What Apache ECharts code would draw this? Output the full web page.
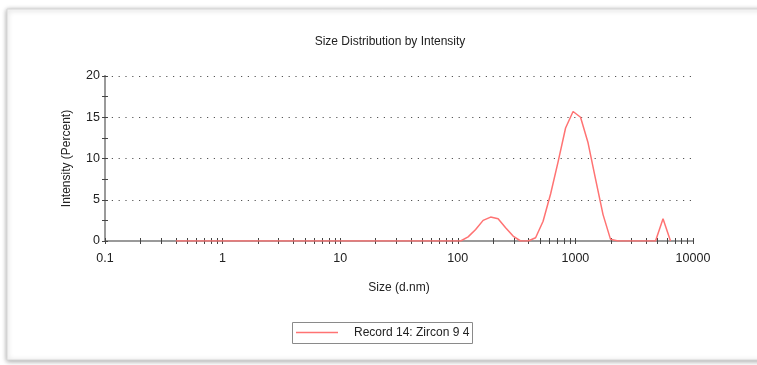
<!DOCTYPE html>
<html>
<head>
<meta charset="utf-8">
<script src="https://cdn.jsdelivr.net/npm/echarts@6/dist/echarts.min.js"></script>
<style>
  html, body { margin: 0; padding: 0; background: #ffffff; }
  #chart { width: 757px; height: 365px; }
</style>
</head>
<body>
<div id="chart"></div>
<script>
// Size classes (d.nm) of the intensity distribution, log-spaced bins
const sizeBins = [
  0.4, 0.4632, 0.5365, 0.6213, 0.7195, 0.8332, 0.9649, 1.117, 1.294, 1.499,
  1.736, 2.010, 2.328, 2.696, 3.122, 3.615, 4.187, 4.849, 5.615, 6.503,
  7.531, 8.721, 10.10, 11.70, 13.54, 15.69, 18.17, 21.04, 24.36, 28.21,
  32.67, 37.84, 43.82, 50.75, 58.77, 68.06, 78.82, 91.28, 105.7, 122.4,
  141.8, 164.2, 190.1, 220.2, 255.0, 295.3, 342.0, 396.1, 458.7, 531.2,
  615.1, 712.4, 825.0, 955.4, 1106, 1281, 1484, 1718, 1990, 2305,
  2669, 3091, 3580, 4145, 4801, 5560, 6439
];

// Intensity (%) per size class
const intensity = [
  0, 0, 0, 0, 0, 0, 0, 0, 0, 0,
  0, 0, 0, 0, 0, 0, 0, 0, 0, 0,
  0, 0, 0, 0, 0, 0, 0, 0, 0, 0,
  0, 0, 0, 0, 0, 0, 0, 0, 0, 0.5,
  1.4, 2.5, 2.9, 2.7, 1.6, 0.6, 0, 0, 0.4, 2.4,
  5.7, 9.6, 13.7, 15.7, 15.0, 11.9, 7.5, 3.2, 0.2, 0,
  0, 0, 0, 0, 0, 2.7, 0
];

// Axis tick positions on the log size axis
const xTickValues = [
  0.1, 0.2, 0.3, 0.4, 0.5, 0.6, 0.7, 0.8, 0.9,
  1, 2, 3, 4, 5, 6, 7, 8, 9,
  10, 20, 30, 40, 50, 60, 70, 80, 90,
  100, 200, 300, 400, 500, 600, 700, 800, 900,
  1000, 2000, 3000, 4000, 5000, 6000, 7000, 8000, 9000,
  10000
];
const xLabelValues = [0.1, 1, 10, 100, 1000, 10000];

const seriesName = 'Record 14: Zircon 9 4';
const LINE_COLOR = '#ff7373';
const FONT = '"Liberation Sans", Arial, sans-serif';

const points = sizeBins.map((s, i) => [s, intensity[i]]);

const chart = echarts.init(document.getElementById('chart'), null, { renderer: 'canvas' });

const tickStyle = { color: '#444', width: 1 };

const xBase = {
  type: 'log',
  logBase: 10,
  min: 0.1,
  max: 10000,
  gridIndex: 0,
  position: 'bottom',
  splitLine: { show: false },
  axisLine: { show: true, onZero: false, lineStyle: { color: '#9a9a9a', width: 2 } }
};
const yBase = {
  type: 'value',
  min: 0,
  max: 20,
  interval: 5,
  gridIndex: 0,
  position: 'left',
  axisLine: { show: true, onZero: false, lineStyle: { color: '#9a9a9a', width: 2 } },
  minorTick: { show: true, splitNumber: 2, length: 3, lineStyle: tickStyle }
};

chart.setOption({
  animation: false,
  backgroundColor: 'transparent',
  graphic: [
    {
      // panel frame
      type: 'rect',
      z: -10,
      shape: { x: 7, y: 9, width: 770, height: 351 },
      style: {
        fill: '#ffffff',
        stroke: '#d6d6d6',
        lineWidth: 1,
        shadowBlur: 5,
        shadowColor: 'rgba(0,0,0,0.35)',
        shadowOffsetX: 0,
        shadowOffsetY: 1
      }
    },
    {
      // legend box
      type: 'group',
      left: 292,
      top: 322,
      z: 10,
      children: [
        {
          type: 'rect',
          shape: { x: 0.5, y: 0.5, width: 180, height: 21 },
          style: { fill: '#ffffff', stroke: '#8a8a8a', lineWidth: 1 }
        },
        {
          type: 'line',
          shape: { x1: 4, y1: 10.5, x2: 46, y2: 10.5 },
          style: { stroke: LINE_COLOR, lineWidth: 1.5 }
        },
        {
          type: 'text',
          x: 62,
          y: 11,
          style: {
            text: seriesName,
            fontFamily: FONT,
            fontSize: 12,
            fill: '#222',
            verticalAlign: 'middle',
            align: 'left'
          }
        }
      ]
    }
  ],
  title: {
    text: 'Size Distribution by Intensity',
    left: 385,
    top: 31,
    textAlign: 'center',
    textStyle: { fontFamily: FONT, fontSize: 12, fontWeight: 'normal', color: '#222' }
  },
  grid: { left: 105, right: 64, top: 76, bottom: 124, containLabel: false },
  xAxis: [
    Object.assign({}, xBase, {
      name: 'Size (d.nm)',
      nameLocation: 'middle',
      nameGap: 41,
      nameTextStyle: { fontFamily: FONT, fontSize: 12, color: '#222' },
      axisTick: { show: true, inside: false, length: 3, customValues: xTickValues, lineStyle: tickStyle },
      axisLabel: { show: true, customValues: xLabelValues, margin: 11, fontFamily: FONT, fontSize: 12.5, color: '#222',
        formatter: v => String(v) }
    }),
    Object.assign({}, xBase, {
      axisTick: { show: true, inside: true, length: 3, customValues: xTickValues, lineStyle: tickStyle },
      axisLabel: { show: false }
    })
  ],
  yAxis: [
    Object.assign({}, yBase, {
      name: 'Intensity (Percent)',
      nameLocation: 'middle',
      nameGap: 32,
      nameTextStyle: { fontFamily: FONT, fontSize: 12, color: '#222' },
      splitLine: { show: true, lineStyle: { color: '#555', width: 1.2, type: [1.2, 5.6] } },
      axisTick: { show: true, inside: false, length: 3, lineStyle: tickStyle },
      axisLabel: { show: true, margin: 5, fontFamily: FONT, fontSize: 12.5, color: '#222' }
    }),
    Object.assign({}, yBase, {
      splitLine: { show: false },
      axisTick: { show: true, inside: true, length: 3, lineStyle: tickStyle },
      axisLabel: { show: false }
    })
  ],
  series: [
    {
      name: seriesName,
      type: 'line',
      xAxisIndex: 0,
      yAxisIndex: 0,
      data: points,
      showSymbol: false,
      symbol: 'none',
      smooth: false,
      lineStyle: { color: LINE_COLOR, width: 1.5 },
      itemStyle: { color: LINE_COLOR },
      z: 5
    }
  ]
});
</script>
</body>
</html>
